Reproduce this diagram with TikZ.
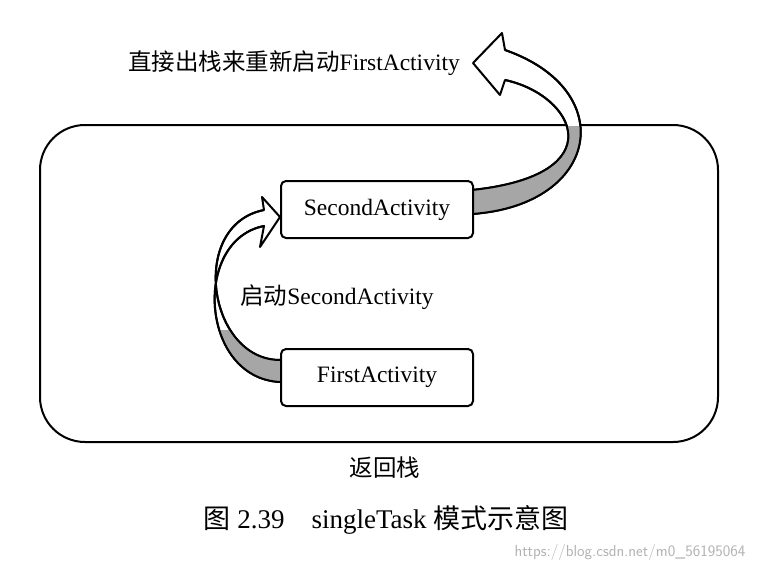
\documentclass[tikz,border=0pt]{standalone}
\usepackage{fontspec}
\setmainfont{Liberation Serif}
\newfontfamily\cjk{Noto Sans CJK SC}
\begin{document}
\begin{tikzpicture}[x=1pt,y=-1pt,
  box/.style={draw,line width=2pt,rounded corners=5pt,minimum width=192pt,minimum height=57pt,font=\fontsize{23.5}{26}\selectfont},
  lbl/.style={font=\fontsize{23.5}{26}\selectfont},
  rib/.style={draw,line width=2pt,line join=round,fill=white}]
\useasboundingbox (0,0) rectangle (761,570);
% stack
\draw[line width=2pt,rounded corners=45pt] (40,125) rectangle (718,442);
% lower ribbon
\path[rib] (280,382) .. controls (200,378) and (192,240) .. (264,226)
  -- (260,247) -- (280,217) -- (262,197) -- (264,210)
  .. controls (188,225) and (208,360) .. (280,360) -- cycle;
\begin{scope}
\clip (150,330) rectangle (281,400);
\path[fill=gray!70] (280,382) .. controls (200,378) and (192,240) .. (264,226)
  -- (264,210) .. controls (188,225) and (208,360) .. (280,360) -- cycle;
\end{scope}
\draw[line width=2pt] (280,382) .. controls (200,378) and (192,240) .. (264,226);
\draw[line width=2pt] (264,210) .. controls (188,225) and (208,360) .. (280,360);
% upper ribbon
\path[rib] (472,214) .. controls (600,205) and (620,90) .. (505,50)
  -- (502,33) -- (473,63) -- (500,95) -- (505,80)
  .. controls (575,95) and (615,175) .. (472,190) -- cycle;
\begin{scope}
\clip (470,126) rectangle (640,220);
\path[fill=gray!70] (472,214) .. controls (600,205) and (620,90) .. (505,50)
  -- (505,80) .. controls (575,95) and (615,175) .. (472,190) -- cycle;
\end{scope}
\draw[line width=2pt] (472,214) .. controls (600,205) and (620,90) .. (505,50);
\draw[line width=2pt] (505,80) .. controls (575,95) and (615,175) .. (472,190);
\node[box,anchor=north west,fill=white] (sa) at (280,180) {SecondActivity};
\node[box,anchor=north west,fill=white] (fa) at (280,348) {FirstActivity};
% labels
\node[lbl] (l1) at (294,63) {{\cjk 直接出栈来重新启动}FirstActivity};
\node[lbl] (l2) at (337,297) {{\cjk 启动}SecondActivity};
\node[lbl] (l3) at (385,468) {\cjk 返回栈};
\node[font=\fontsize{27}{30}\selectfont] (cap) at (386,520) {{\cjk 图} 2.39\quad singleTask {\cjk 模式示意图}};
\node[font=\sffamily\fontsize{16}{18}\selectfont,text=gray!60] (wm) at (630,552) {https://blog.csdn.net/m0\_56195064};
\end{tikzpicture}
\end{document}
